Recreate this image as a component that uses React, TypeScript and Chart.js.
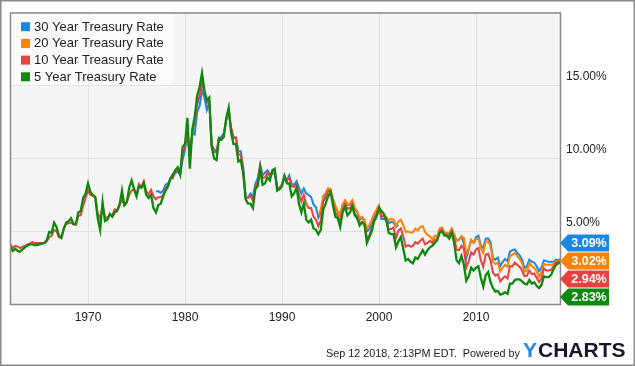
import React, { useEffect, useRef } from 'react';
import { Chart, registerables } from 'chart.js';

Chart.register(...registerables);

// ---------- data ----------
const quarterOffsets = [0, 0.25, 0.5, 0.75];
const lastYearOffsets = [0, 0.25, 0.5, 0.66];
const firstYear = 1962;
const lastYear = 2018;

const seriesNames = ['30 Year Treasury Rate', '20 Year Treasury Rate', '10 Year Treasury Rate', '5 Year Treasury Rate'];
const seriesColors = ['#1a87e6', '#ff8200', '#e8413f', '#0d8a0d'];
const seriesStarts = [1977, 1993.75, 1962, 1962];

const rate30: (number | null)[] = [
  7.75, 7.75, 7.65, 7.8, // 1977
  8.2, 8.3, 8.65, 8.9,
  9.0, 9.1, 8.9, 9.9,
  10.6, 11.8, 10.15, 11.75, // 1980
  11.65, 13.2, 13.6, 14.7,
  14.2, 13.35, 13.9, 10.95,
  10.65, 10.5, 11.4, 11.5,
  11.75, 12.65, 13.2, 12.05,
  11.45, 11.45, 10.5, 10.5,
  9.4, 7.4, 7.3, 7.6,
  7.4, 8.25, 8.65, 9.6,
  8.85, 9.05, 9.2, 8.9,
  8.95, 9.0, 8.0, 7.9,
  8.25, 8.8, 8.5, 8.85, // 1990
  8.25, 8.2, 8.45, 8.0,
  7.6, 7.95, 7.6, 7.5,
  7.35, 6.85, 6.65, 5.95,
  6.3, 7.25, 7.6, 7.95,
  7.85, 7.2, 6.7, 6.35,
  6.05, 6.8, 7.05, 6.8,
  6.85, 7.1, 6.5, 6.35,
  5.8, 5.95, 5.7, 5.0,
  5.15, 5.55, 6.0, 6.25,
  6.65, 5.85, 5.85, 5.8, // 2000
  5.55, 5.65, 5.6, 5.3,
  5.45, null, null, null,
  null, null, null, null,
  null, null, null, null,
  null, null, null, null,
  4.55, 5.05, 5.1, 4.85, // 2006
  4.85, 4.85, 5.1, 4.75,
  4.35, 4.45, 4.65, 4.15,
  3.15, 3.75, 4.4, 4.2,
  4.6, 4.7, 4.0, 3.85, // 2010
  4.5, 4.5, 4.25, 3.15,
  3.05, 3.2, 2.6, 2.9,
  3.1, 2.95, 3.6, 3.7,
  3.75, 3.5, 3.35, 3.05,
  2.45, 2.6, 3.05, 2.9,
  2.85, 2.6, 2.25, 2.5,
  3.0, 2.95, 2.9, 2.9,
  2.9, 3.05, 3.0, 3.09, // 2018
];

const rate20: (number | null)[] = [
  6.1, // 1993 Q4
  6.5, 7.45, 7.6, 7.95, // 1994
  7.9, 7.25, 6.75, 6.4,
  6.1, 6.85, 7.15, 6.85,
  6.9, 7.15, 6.6, 6.4,
  5.9, 6.0, 5.8, 5.2,
  5.4, 5.8, 6.2, 6.5,
  6.8, 6.1, 6.05, 6.0, // 2000
  5.75, 5.85, 5.8, 5.35,
  5.7, 5.8, 5.4, 4.95,
  5.0, 4.9, 4.95, 5.2,
  5.05, 5.3, 5.35, 4.95,
  4.75, 4.65, 4.45, 4.7,
  4.6, 5.2, 5.25, 4.9,
  4.9, 4.9, 5.2, 4.8,
  4.35, 4.4, 4.65, 4.55,
  3.45, 3.8, 4.4, 4.2,
  4.45, 4.5, 3.8, 3.5, // 2010
  4.3, 4.3, 4.0, 2.9,
  2.75, 2.85, 2.25, 2.5,
  2.7, 2.55, 3.3, 3.4,
  3.5, 3.3, 3.1, 2.8,
  2.2, 2.3, 2.8, 2.6,
  2.5, 2.25, 1.85, 2.2,
  2.75, 2.7, 2.7, 2.7,
  2.75, 2.95, 2.95, 3.02, // 2018
];

const rate10: (number | null)[] = [
  4.1, 3.85, 4.0, 3.95, // 1962
  3.85, 3.95, 4.0, 4.1,
  4.15, 4.25, 4.2, 4.2,
  4.2, 4.2, 4.2, 4.3,
  4.6, 4.7, 5.1, 5.0,
  4.6, 4.55, 5.15, 5.5,
  5.55, 5.6, 5.5, 5.45,
  6.05, 6.1, 6.75, 7.3,
  7.8, 7.5, 7.45, 7.4, // 1970
  6.25, 5.85, 6.75, 5.95,
  5.95, 6.1, 6.1, 6.5,
  6.45, 6.85, 7.15, 6.8,
  7.0, 7.5, 7.8, 7.9,
  7.5, 8.25, 8.05, 8.45,
  7.75, 7.55, 7.85, 7.4,
  7.2, 7.35, 7.35, 7.5,
  7.95, 8.15, 8.65, 8.65,
  9.1, 9.2, 8.95, 10.3,
  10.8, 12.0, 10.25, 11.75, // 1980
  12.55, 13.7, 14.3, 15.15,
  14.6, 13.85, 13.95, 10.9,
  10.45, 10.4, 11.4, 11.3,
  11.65, 12.65, 13.35, 12.15,
  11.4, 11.45, 10.3, 10.25,
  9.2, 7.3, 7.3, 7.45,
  7.1, 8.0, 8.45, 9.5,
  8.65, 8.7, 9.05, 8.8,
  9.1, 9.2, 8.0, 8.0,
  8.2, 8.8, 8.45, 8.7, // 1990
  8.1, 8.05, 8.25, 7.55,
  7.05, 7.5, 6.85, 6.6,
  6.6, 6.0, 5.8, 5.35,
  5.75, 7.05, 7.3, 7.75,
  7.8, 7.05, 6.3, 6.05,
  5.65, 6.5, 6.85, 6.55,
  6.6, 6.9, 6.2, 6.05,
  5.55, 5.65, 5.45, 4.55,
  4.7, 5.2, 5.8, 6.1,
  6.65, 6.0, 6.05, 5.75, // 2000
  5.15, 5.15, 5.25, 4.55,
  5.05, 5.2, 4.65, 3.95,
  4.05, 3.95, 4.0, 4.25,
  4.15, 4.35, 4.5, 4.1,
  4.2, 4.35, 4.2, 4.45,
  4.4, 5.0, 5.1, 4.75,
  4.75, 4.7, 5.0, 4.55,
  3.75, 3.7, 4.0, 3.8,
  2.5, 2.95, 3.55, 3.4,
  3.75, 3.85, 3.0, 2.55, // 2010
  3.4, 3.45, 3.0, 2.15,
  1.95, 2.05, 1.55, 1.75,
  1.9, 1.75, 2.6, 2.6,
  2.85, 2.7, 2.55, 2.3,
  1.9, 1.95, 2.3, 2.05,
  2.1, 1.8, 1.5, 1.75,
  2.45, 2.3, 2.3, 2.35,
  2.6, 2.85, 2.9, 2.94, // 2018
];

const rate5: (number | null)[] = [
  3.9, 3.65, 3.8, 3.65, // 1962
  3.6, 3.75, 3.9, 4.0,
  4.1, 4.1, 4.05, 4.05,
  4.1, 4.15, 4.2, 4.4,
  4.95, 4.9, 5.6, 5.3,
  4.7, 4.55, 5.2, 5.6,
  5.7, 5.9, 5.5, 5.5,
  6.3, 6.4, 7.3, 7.6,
  8.3, 7.7, 7.5, 7.3, // 1970
  5.9, 5.1, 7.0, 5.7,
  5.8, 6.2, 6.0, 6.3,
  6.4, 6.8, 7.8, 6.8,
  7.0, 8.0, 8.5, 7.9,
  7.4, 8.1, 8.0, 8.3,
  7.5, 7.3, 7.5, 6.6,
  6.3, 6.8, 6.9, 7.4,
  7.8, 8.1, 8.6, 8.9,
  9.2, 9.4, 8.9, 10.8,
  11.0, 12.8, 9.3, 12.0, // 1980
  12.9, 14.3, 14.9, 15.9,
  14.7, 14.0, 14.2, 10.8,
  10.0, 9.9, 11.4, 11.3,
  11.5, 12.8, 13.5, 11.8,
  11.0, 11.0, 9.8, 9.9,
  9.0, 7.2, 6.9, 6.9,
  6.6, 7.9, 8.1, 9.3,
  8.2, 8.3, 8.7, 8.5,
  9.2, 9.3, 7.8, 7.9,
  8.1, 8.8, 8.3, 8.3, // 1990
  7.4, 7.6, 8.0, 6.9,
  6.3, 6.9, 5.8, 5.6,
  5.8, 5.2, 5.1, 4.8,
  5.1, 6.5, 6.9, 7.4,
  7.7, 6.8, 6.0, 5.9,
  5.3, 6.3, 6.7, 6.1,
  6.3, 6.7, 6.1, 5.9,
  5.4, 5.6, 5.5, 4.2,
  4.6, 5.0, 5.7, 6.0,
  6.6, 6.4, 6.2, 5.8, // 2000
  4.9, 4.8, 4.8, 3.9,
  4.3, 4.6, 3.8, 3.0,
  3.1, 2.9, 2.8, 3.2,
  3.1, 3.4, 3.7, 3.4,
  3.7, 3.9, 4.0, 4.2,
  4.4, 4.9, 5.0, 4.7,
  4.7, 4.5, 4.9, 4.2,
  3.0, 2.8, 3.3, 2.7,
  1.6, 1.9, 2.5, 2.3,
  2.5, 2.6, 1.8, 1.2, // 2010
  2.0, 2.2, 1.5, 1.1,
  0.85, 0.9, 0.65, 0.7,
  0.8, 0.7, 1.4, 1.4,
  1.65, 1.7, 1.7, 1.55,
  1.4, 1.35, 1.65, 1.4,
  1.5, 1.25, 1.1, 1.3,
  1.9, 1.85, 1.85, 2.0,
  2.4, 2.7, 2.8, 2.83, // 2018
];

const seriesValues = [rate30, rate20, rate10, rate5];

const xTickYears = [1970, 1980, 1990, 2000, 2010];
const yTickValues = [0, 5, 10, 15, 20];
const footerText = 'Sep 12 2018, 2:13PM EDT.  Powered by';

// ---------- helpers ----------
const dates: number[] = [];
for (let y = firstYear; y <= lastYear; y++) {
  const offs = y === lastYear ? lastYearOffsets : quarterOffsets;
  offs.forEach((o) => dates.push(y + o));
}

const FONT = '"Liberation Sans", Arial, Helvetica, sans-serif';

function lastValue(arr: (number | null)[]): number {
  for (let i = arr.length - 1; i >= 0; i--) if (arr[i] != null) return arr[i] as number;
  return 0;
}

const decorPlugin = {
  id: 'decor',
  beforeDraw(chart: any) {
    const { ctx, chartArea: ca } = chart;
    ctx.save();
    ctx.fillStyle = '#f5f5f5';
    ctx.fillRect(ca.left, ca.top, ca.right - ca.left, ca.bottom - ca.top);
    ctx.restore();
  },
  afterDatasetsDraw(chart: any) {
    const { ctx, chartArea: ca } = chart;
    ctx.save();
    // legend box
    ctx.fillStyle = 'rgba(255,255,255,0.55)';
    ctx.fillRect(ca.left, ca.top, 162, 72);
    ctx.font = `13px ${FONT}`;
    ctx.textBaseline = 'middle';
    ctx.textAlign = 'left';
    seriesNames.forEach((name, i) => {
      const cy = ca.top + 13.5 + i * 16.7;
      ctx.fillStyle = seriesColors[i];
      ctx.fillRect(ca.left + 10, cy - 4.5, 9, 9);
      ctx.fillStyle = '#222';
      ctx.fillText(name, ca.left + 23, cy + 0.5);
    });
    // plot border
    ctx.strokeStyle = '#8a8a8a';
    ctx.lineWidth = 1.5;
    ctx.strokeRect(ca.left - 0.5, ca.top - 0.25, ca.right - ca.left + 1, ca.bottom - ca.top + 0.75);
    ctx.restore();
  },
  afterDraw(chart: any) {
    const { ctx, chartArea: ca } = chart;
    const yScale = chart.scales.y;
    ctx.save();
    // value badges
    const h = 18;
    const items = seriesValues.map((vals, i) => {
      const v = lastValue(vals);
      return { v, color: seriesColors[i], c: yScale.getPixelForValue(v) };
    });
    items.sort((a, b) => a.c - b.c);
    for (let i = 1; i < items.length; i++) {
      if (items[i].c < items[i - 1].c + h) items[i].c = items[i - 1].c + h;
    }
    const limit = ca.bottom - h / 2 + 2;
    const over = items[items.length - 1].c - limit;
    if (over > 0) items.forEach((it) => (it.c -= over));
    const tipX = ca.right;
    const bodyX = tipX + 8;
    const endX = 609;
    items.forEach((it) => {
      const t = it.c - h / 2 + 0.5;
      const b = it.c + h / 2 - 0.5;
      ctx.fillStyle = it.color;
      ctx.beginPath();
      ctx.moveTo(tipX, it.c);
      ctx.lineTo(bodyX, t);
      ctx.lineTo(endX, t);
      ctx.lineTo(endX, b);
      ctx.lineTo(bodyX, b);
      ctx.closePath();
      ctx.fill();
      ctx.fillStyle = '#ffffff';
      ctx.font = `bold 12.5px ${FONT}`;
      ctx.textAlign = 'center';
      ctx.textBaseline = 'middle';
      ctx.fillText(it.v.toFixed(2) + '%', (bodyX + endX) / 2 + 0.5, it.c + 0.5);
    });
    // footer
    ctx.fillStyle = '#222';
    ctx.font = `10.8px ${FONT}`;
    ctx.textAlign = 'left';
    ctx.textBaseline = 'alphabetic';
    ctx.fillText(footerText, 326, 357);
    ctx.font = `bold 21px ${FONT}`;
    ctx.textAlign = 'left';
    ctx.fillStyle = '#1e88e5';
    ctx.fillText('Y', 523, 357);
    const yw = ctx.measureText('Y').width;
    ctx.fillStyle = '#15172a';
    ctx.fillText('CHARTS', 523 + yw + 1, 357);
    // outer border
    ctx.strokeStyle = '#8a8a8a';
    ctx.lineWidth = 1.5;
    ctx.strokeRect(0.75, 0.75, chart.width - 1.5, chart.height - 1.5);
    ctx.restore();
  },
};

export default function App() {
  const canvasRef = useRef<HTMLCanvasElement | null>(null);

  useEffect(() => {
    document.body.style.margin = '0';
    const canvas = canvasRef.current;
    if (!canvas) return;

    const datasets = seriesValues.map((vals, si) => {
      const start = dates.findIndex((d) => Math.abs(d - seriesStarts[si]) < 1e-6);
      return {
        label: seriesNames[si],
        data: vals.map((v, i) => ({ x: dates[start + i], y: v })),
        borderColor: seriesColors[si],
        backgroundColor: seriesColors[si],
        borderWidth: si === 3 ? 2.3 : 2,
        pointRadius: 0,
        tension: 0,
        spanGaps: false,
        order: 4 - si,
      };
    });

    const chart = new Chart(canvas, {
      type: 'line',
      data: { datasets },
      options: {
        responsive: false,
        maintainAspectRatio: false,
        animation: false,
        layout: { padding: { left: 11, top: 10, right: 0, bottom: 0 } },
        plugins: { legend: { display: false }, tooltip: { enabled: false } },
        scales: {
          x: {
            type: 'linear',
            min: 1962.06,
            max: 2018.66,
            afterBuildTicks: (scale: any) => {
              scale.ticks = xTickYears.map((v) => ({ value: v }));
            },
            afterFit: (scale: any) => {
              scale.height = 62;
            },
            ticks: {
              callback: (v: any) => String(v),
              padding: 6,
              maxRotation: 0,
              autoSkip: false,
              color: '#222',
              font: { family: FONT, size: 12 },
            },
            grid: { color: '#e2e2e2', drawTicks: false },
            border: { display: false },
          },
          y: {
            type: 'linear',
            position: 'right',
            min: 0,
            max: 20,
            afterBuildTicks: (scale: any) => {
              scale.ticks = yTickValues.map((v) => ({ value: v }));
            },
            afterFit: (scale: any) => {
              scale.width = 75;
            },
            ticks: {
              callback: (v: any) => (v === 0 || v === 20 ? '' : Number(v).toFixed(2) + '%'),
              padding: 6,
              labelOffset: -9,
              crossAlign: 'near',
              color: '#222',
              font: { family: FONT, size: 12 },
            },
            grid: { color: '#e2e2e2', drawTicks: false },
            border: { display: false },
          },
        },
      },
      plugins: [decorPlugin],
    } as any);

    return () => chart.destroy();
  }, []);

  return (
    <div style={{ width: 635, height: 366, position: 'relative' }}>
      <canvas ref={canvasRef} width={635} height={366} style={{ display: 'block' }} />
    </div>
  );
}
